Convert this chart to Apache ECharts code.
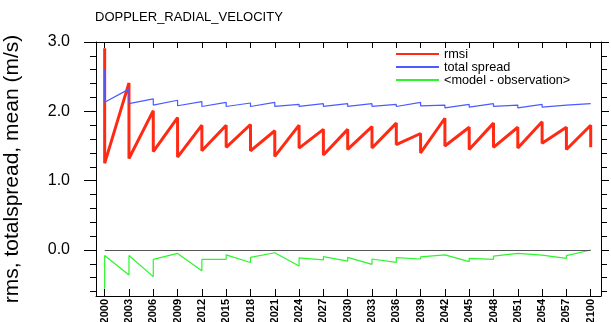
<!DOCTYPE html>
<html>
<head>
<meta charset="utf-8">
<script src="https://cdn.jsdelivr.net/npm/echarts@6/dist/echarts.min.js"></script>
<style>
html,body{margin:0;padding:0;background:#fff;}
#c{width:611px;height:322px;}
</style>
</head>
<body>
<div id="c"></div>
<script>
// x positions of the cycle boundaries and their labels
const xTicks = [0,3,6,9,12,15,18,21,24,27,30,33,36,39,42,45,48,51,54,57,60];
const tickLabels = ['2000','2003','2006','2009','2012','2015','2018','2021','2024','2027','2030','2033','2036','2039','2042','2045','2048','2051','2054','2057','2100'];
// value arriving at each boundary and value leaving it
const rmsiIn  = [2.91,2.41,2.01,1.91,1.80,1.80,1.81,1.72,1.80,1.74,1.74,1.78,1.83,1.68,1.90,1.77,1.83,1.77,1.85,1.77,1.80];
const rmsiOut = [1.25,1.32,1.42,1.34,1.43,1.48,1.43,1.35,1.47,1.37,1.45,1.47,1.52,1.40,1.50,1.45,1.48,1.47,1.54,1.45,1.48];
const spreadIn  = [2.60,2.32,2.18,2.16,2.14,2.13,2.12,2.13,2.10,2.11,2.11,2.11,2.10,2.13,2.09,2.10,2.11,2.09,2.10,2.09,2.11];
const spreadOut = [2.13,2.11,2.09,2.08,2.07,2.07,2.07,2.07,2.07,2.07,2.07,2.07,2.07,2.08,2.05,2.06,2.07,2.05,2.06,2.07,2.11];
const meanIn  = [-0.56,-0.36,-0.385,-0.05,-0.30,-0.135,-0.18,-0.04,-0.23,-0.144,-0.16,-0.207,-0.18,-0.13,-0.07,-0.168,-0.135,-0.05,-0.075,-0.12,0.0];
const meanOut = [-0.08,-0.08,-0.135,-0.05,-0.135,-0.07,-0.106,-0.04,-0.115,-0.096,-0.106,-0.13,-0.11,-0.10,-0.07,-0.12,-0.09,-0.05,-0.075,-0.082,0.0];
const yMajor = [0,1,2,3];
const yMinor = [-0.6,-0.4,-0.2,0.2,0.4,0.6,0.8,1.2,1.4,1.6,1.8,2.2,2.4,2.6,2.8];
const seriesNames = ['rmsi','total spread','<model - observation>'];

function build(inv, outv){
  const d = [];
  for (let i = 0; i < xTicks.length; i++){
    d.push([xTicks[i], inv[i]]);
    d.push([xTicks[i], outv[i]]);
  }
  return d;
}

const FONT = 'Liberation Sans, Arial, Helvetica, sans-serif';
const X_MIN = -1.07, X_MAX = 61.27, Y_MIN = -0.664, Y_MAX = 3.0;

const chart = echarts.init(document.getElementById('c'), null, {renderer:'canvas'});
const labelMap = {};
xTicks.forEach((v,i)=>{labelMap[v]=tickLabels[i];});

function yAx(pos, ticks, len, showLabel, showLine){
  return {
    type:'value', position:pos, min:Y_MIN, max:Y_MAX,
    splitLine:{show:false},
    axisLine:{show:showLine, onZero:false, lineStyle:{color:'#000', width:1}},
    axisTick:{show:true, inside:false, length:len, customValues:ticks, lineStyle:{color:'#000', width:1}},
    axisLabel:{show:showLabel, customValues:yMajor, margin:26, fontSize:16, color:'#000', fontFamily:FONT,
      formatter:(v)=>v.toFixed(1)},
    name: showLabel ? 'rms, totalspread, mean (m/s)' : '',
    nameLocation:'middle', nameRotate:90, nameGap:73,
    nameTextStyle:{fontSize:21, color:'#000', fontFamily:FONT}
  };
}

const option = {
  animation:false,
  backgroundColor:'#fff',
  title:{text:'DOPPLER_RADIAL_VELOCITY', left:95, top:10.5, padding:0,
    textStyle:{fontSize:13, fontWeight:'normal', color:'#000', fontFamily:FONT}},
  legend:{
    orient:'vertical', left:395, top:47.5, padding:0, itemGap:0,
    itemWidth:43, itemHeight:8,
    itemStyle:{opacity:0},
    data:seriesNames,
    textStyle:{fontSize:12.7, lineHeight:13, color:'#000', fontFamily:FONT}
  },
  grid:{left:96, right:10, top:42, bottom:26, containLabel:false, outerBoundsMode:'none'},
  xAxis:[
    {type:'value', position:'bottom', min:X_MIN, max:X_MAX,
     splitLine:{show:false},
     axisLine:{onZero:false, lineStyle:{color:'#000', width:1}},
     axisTick:{inside:true, length:7, customValues:xTicks, lineStyle:{color:'#000', width:1}},
     axisLabel:{customValues:xTicks, rotate:90, margin:3, fontSize:11, fontWeight:'bold', color:'#000', fontFamily:FONT,
       formatter:(v)=>labelMap[Math.round(v)] ?? ''}},
    {type:'value', position:'top', min:X_MIN, max:X_MAX,
     splitLine:{show:false},
     axisLine:{onZero:false, lineStyle:{color:'#000', width:1}},
     axisTick:{inside:true, length:6, customValues:xTicks, lineStyle:{color:'#000', width:1}},
     axisLabel:{show:false}}
  ],
  yAxis:[
    yAx('left', yMajor, 12, true, true),
    yAx('left', yMinor, 6, false, false),
    yAx('right', yMajor, 8, false, true),
    yAx('right', yMinor, 6, false, false)
  ],
  series:[
    {name:seriesNames[0], type:'line', data:build(rmsiIn, rmsiOut), symbol:'none',
     lineStyle:{color:'#ff2a14', width:3}, itemStyle:{color:'#ff2a14'}, z:3},
    {name:seriesNames[1], type:'line', data:build(spreadIn, spreadOut), symbol:'none',
     lineStyle:{color:'#4b5bff', width:1.2}, itemStyle:{color:'#4b5bff'}, z:4},
    {name:seriesNames[2], type:'line', data:build(meanIn, meanOut), symbol:'none',
     lineStyle:{color:'#2cf52c', width:1.2}, itemStyle:{color:'#2cf52c'}, z:4,
     markLine:{silent:true, symbol:'none', label:{show:false},
       lineStyle:{color:'#555', width:1, type:'solid'},
       data:[[{coord:[xTicks[0],0]},{coord:[xTicks[xTicks.length-1],0]}]]}}
  ]
};
chart.setOption(option);
</script>
</body>
</html>
